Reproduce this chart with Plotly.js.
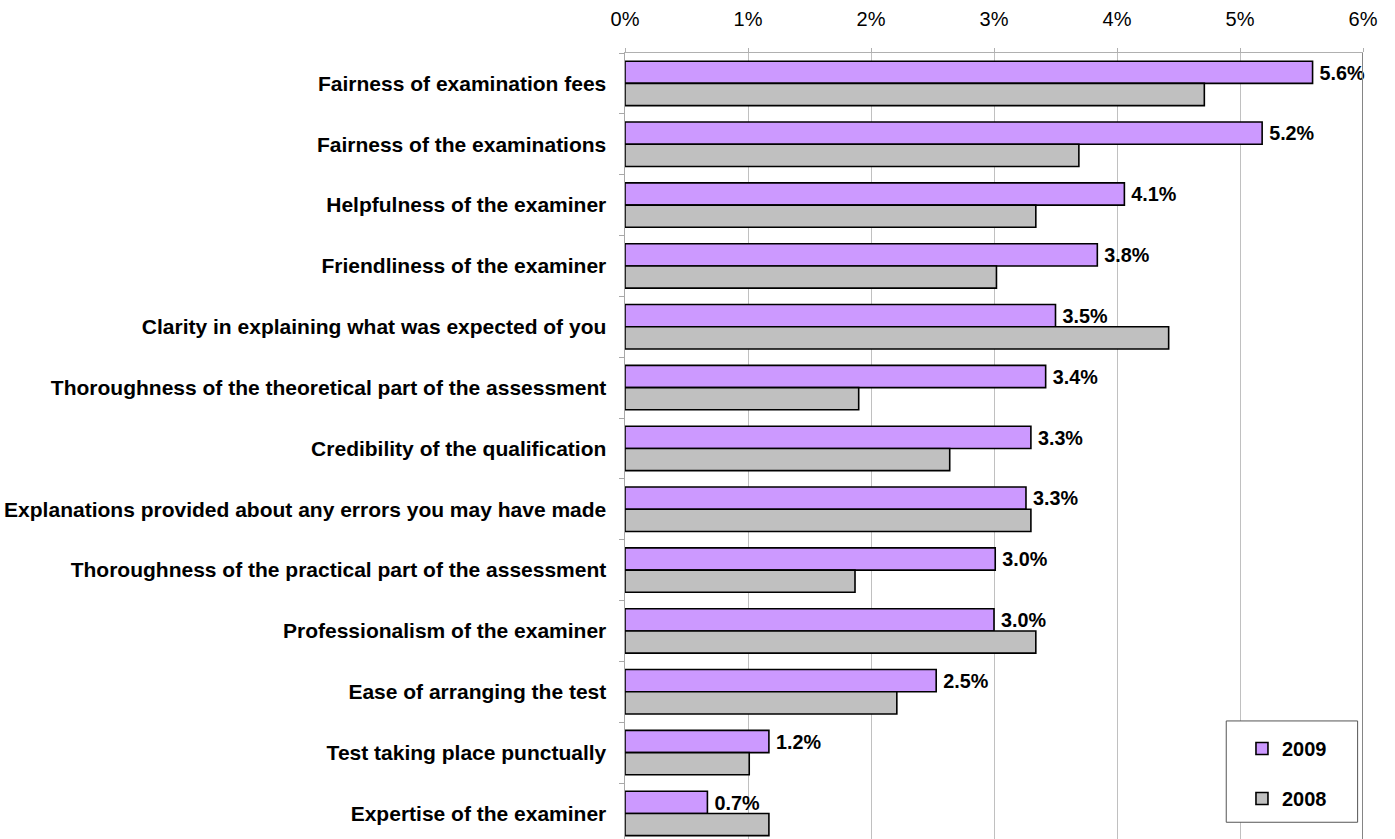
<!DOCTYPE html>
<html>
<head>
<meta charset="utf-8">
<script src="https://cdn.plot.ly/plotly-3.0.1.min.js"></script>
<style>html,body{margin:0;padding:0;background:#fff;overflow:hidden;}#chart{width:1395px;height:839px;}</style>
</head>
<body>
<div id="chart"></div>
<script>
const categories = [
  "Fairness of examination fees",
  "Fairness of the examinations",
  "Helpfulness of the examiner",
  "Friendliness of the examiner",
  "Clarity in explaining what was expected of you",
  "Thoroughness of the theoretical part of the assessment",
  "Credibility of the qualification",
  "Explanations provided about any errors you may have made",
  "Thoroughness of the practical part of the assessment",
  "Professionalism of the examiner",
  "Ease of arranging the test",
  "Test taking place punctually",
  "Expertise of the examiner"
];
const values2009 = [5.59, 5.18, 4.06, 3.84, 3.50, 3.42, 3.30, 3.26, 3.01, 3.00, 2.53, 1.17, 0.67];
const values2008 = [4.71, 3.69, 3.34, 3.02, 4.42, 1.90, 2.64, 3.30, 1.87, 3.34, 2.21, 1.01, 1.17];
const seriesNames = ["2009", "2008"];
const xTickVals = [0, 1, 2, 3, 4, 5, 6];
const xTickText = ["0%", "1%", "2%", "3%", "4%", "5%", "6%"];

const font = "Liberation Sans, Arial, sans-serif";

const traces = [
  {
    type: "bar", orientation: "h", name: seriesNames[0], legendgroup: "a",
    y: categories, x: values2009,
    marker: {color: "#cc99ff", line: {color: "#000000", width: 1.6}},
    texttemplate: "\u2009%{x:.1f}%", textposition: "outside",
    textfont: {family: font, size: 20.5, color: "#000", weight: "bold"},
    cliponaxis: false
  },
  {
    type: "bar", orientation: "h", name: seriesNames[1], legendgroup: "b",
    y: categories, x: values2008,
    marker: {color: "#c0c0c0", line: {color: "#000000", width: 1.6}}
  }
];

const layout = {
  width: 1395, height: 839,
  margin: {l: 625, r: 32, t: 53, b: 0, pad: 0},
  paper_bgcolor: "#fff", plot_bgcolor: "#fff",
  font: {family: font, size: 20, color: "#000"},
  barmode: "group", bargap: 0.27, bargroupgap: 0,
  showlegend: true,
  legend: {
    x: 0.836, y: 0.14, xanchor: "left", yanchor: "top",
    bgcolor: "rgba(0,0,0,0)", borderwidth: 0,
    font: {family: font, size: 20, color: "#000", weight: "bold"},
    traceorder: "grouped", tracegroupgap: 21
  },
  shapes: [
    {type: "rect", xref: "paper", yref: "paper", x0: 0.8147, x1: 0.9927, y0: 0.0213, y1: 0.1502,
     line: {color: "#555555", width: 1}, fillcolor: "#ffffff", layer: "above"},
    {type: "line", xref: "x", yref: "paper", x0: 6, x1: 6, y0: 0, y1: 1,
     line: {color: "#858585", width: 2}, layer: "above"}
  ],
  xaxis: {
    side: "top", range: [0, 6], tickvals: xTickVals, ticktext: xTickText,
    showgrid: true, gridcolor: "#c0c0c0", gridwidth: 1,
    showline: true, linecolor: "#b0b0b0", linewidth: 1.5,
    ticks: "outside", ticklen: 4, tickcolor: "#b0b0b0",
    ticklabelstandoff: 14,
    zeroline: false, fixedrange: true,
    tickfont: {family: font, size: 20, color: "#000"}
  },
  yaxis: {
    type: "category", autorange: false, range: [12.42, -0.5],
    showline: true, linecolor: "#a8a8a8", linewidth: 1.5,
    ticks: "outside", tickson: "boundaries", ticklen: 5, tickcolor: "#a8a8a8",
    showgrid: false, zeroline: false, fixedrange: true,
    tickfont: {family: font, size: 21, color: "#000", weight: "bold"},
    ticklabelstandoff: 13
  }
};

Plotly.newPlot("chart", traces, layout, {displayModeBar: false, staticPlot: true});
</script>
</body>
</html>
